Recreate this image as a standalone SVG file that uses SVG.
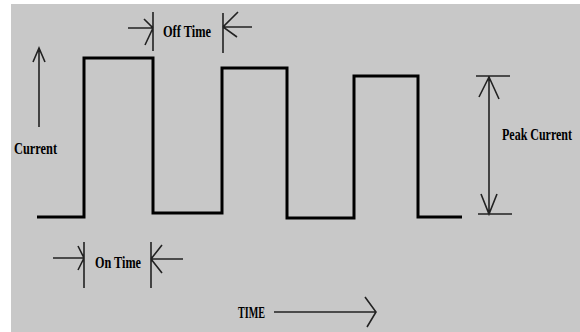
<svg xmlns="http://www.w3.org/2000/svg" width="580" height="332" viewBox="0 0 580 332">
<style>
.wave{fill:none;stroke:#000;stroke-width:3;stroke-linejoin:miter}
.dim{fill:none;stroke:#222;stroke-width:1.6}
.lbl{font-family:"Liberation Serif","Times New Roman",serif;font-weight:bold;fill:#000}
</style>
<rect x="0" y="0" width="580" height="332" fill="#fff"/>
<rect x="11" y="4" width="569" height="328" fill="#c8c8c8"/>
<g id="waveform">
<path class="wave" d="M37,217 H84 V58 H153 V213 H222 V68 H287 V218 H354 V76 H418 V217 H462"/>
</g>
<g id="connectors">
<g id="current-arrow">
<path class="dim" d="M39,127 V48 M33,62 L39,48 L45,62"/>
</g>
<g id="peak-arrow">
<path class="dim" d="M489,77 V214 M476,76 H510 M478,214 H512 M479,97 L489,77 L499,99 M481,194 L489,214 L497,194"/>
</g>
<g id="offtime-arrows">
<path class="dim" d="M153,12 V51 M223,13 V53 M128,28 H153 M144,19 L153,28 L145,45 M223,27 H252 M238,12 L223,27 L237,37"/>
</g>
<g id="ontime-arrows">
<path class="dim" d="M84,242 V288 M151,242 V288 M53,258 H84 M78,246 L84,258 L78,270 M151,259 H183 M162,245 L151,259 L162,273"/>
</g>
<g id="time-arrow">
<path class="dim" d="M274,312 H376 M365,297 L376,312 L367,327"/>
</g>
</g>
<g id="labels">
<text class="lbl" x="14" y="154" font-size="17" textLength="43" lengthAdjust="spacingAndGlyphs">Current</text>
<text class="lbl" x="163" y="37" font-size="16" textLength="48" lengthAdjust="spacingAndGlyphs">Off Time</text>
<text class="lbl" x="95" y="268" font-size="16" textLength="46" lengthAdjust="spacingAndGlyphs">On Time</text>
<text class="lbl" x="502" y="140" font-size="16" textLength="70" lengthAdjust="spacingAndGlyphs">Peak Current</text>
<text class="lbl" x="238" y="318" font-size="16" textLength="27" lengthAdjust="spacingAndGlyphs">TIME</text>
</g>
</svg>
